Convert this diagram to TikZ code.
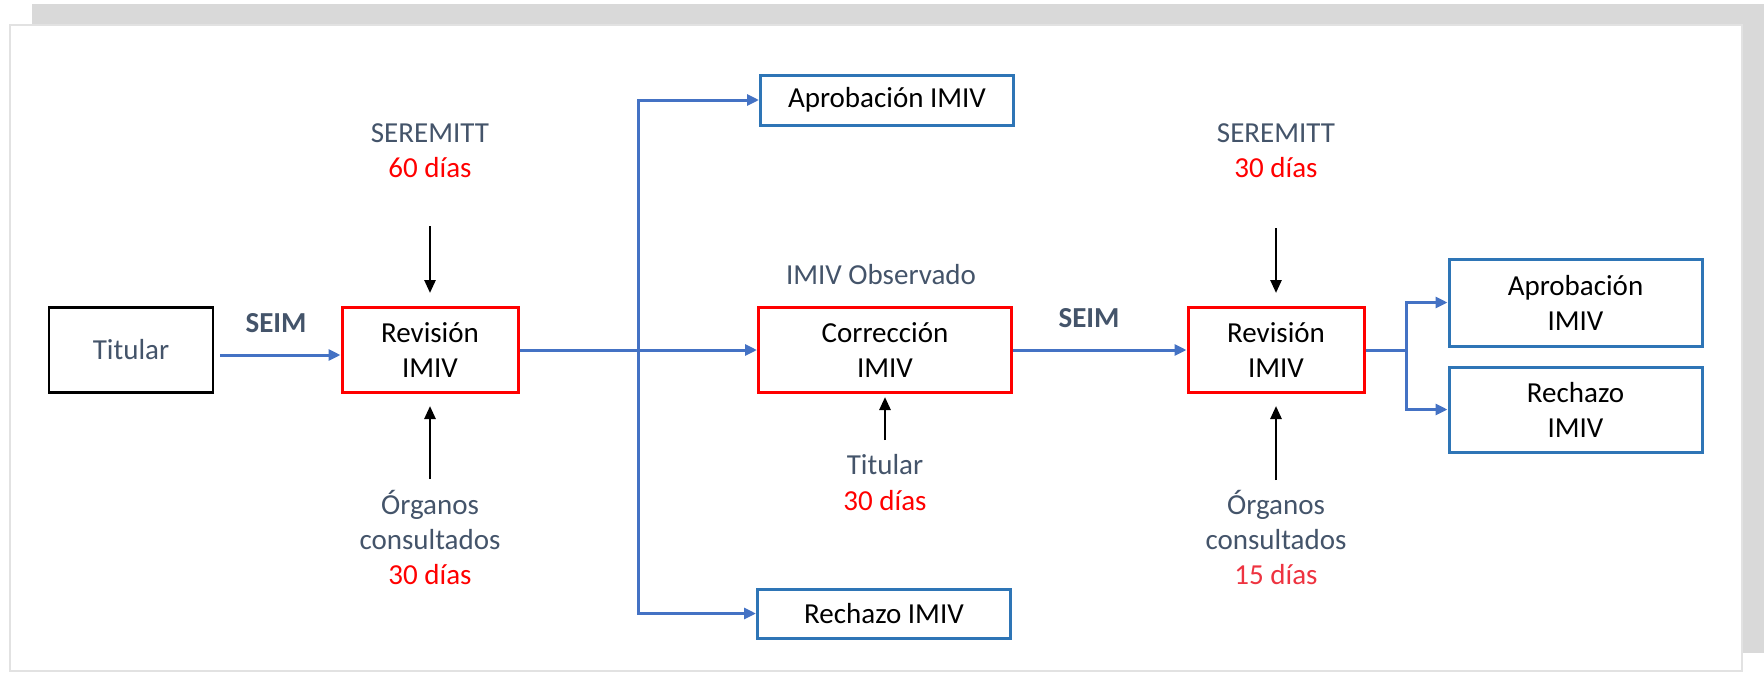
\documentclass[tikz,border=0pt]{standalone}
\usepackage{fontspec}
\setmainfont{Carlito}
\usetikzlibrary{arrows.meta}
\definecolor{txtgray}{HTML}{44546A}
\definecolor{dred}{HTML}{FF0000}
\definecolor{pred}{HTML}{EE3340}
\definecolor{boxblue}{HTML}{2E75B6}
\definecolor{arrblue}{HTML}{4472C4}
\definecolor{shadowgray}{HTML}{D9D9D9}
\definecolor{panelline}{HTML}{E2E2E2}
\begin{document}
\begin{tikzpicture}[x=1pt,y=-1pt,
  every node/.style={font=\fontsize{29}{35}\selectfont, inner sep=0pt},
  redbox/.style={draw=dred, line width=3pt, minimum width=176pt, minimum height=85pt, align=center},
  bluebox/.style={draw=boxblue, line width=3pt, minimum width=253pt, align=center},
  blkbox/.style={draw=black, line width=2.6pt, minimum width=164pt, minimum height=85pt},
  barrow/.style={draw=arrblue, line width=3pt, -{Triangle[length=12pt,width=11pt]}},
  bline/.style={draw=arrblue, line width=3pt},
  karrow/.style={draw=black, line width=2.6pt, -{Triangle[length=13pt,width=11pt]}},
  lbl/.style={text=txtgray, anchor=base},
  days/.style={text=dred, anchor=base}
]
\useasboundingbox (0,0) rectangle (1764,672);
% frame
\fill[shadowgray] (32,4) rectangle (1764,653);
\filldraw[fill=white, draw=panelline, line width=2pt] (10,25) rectangle (1742,670.5);

% main nodes
\node[blkbox, text=txtgray] (tit) at (131,350) {Titular};
\node[redbox] (rev1) at (430,350) {Revisión\\IMIV};
\node[redbox, minimum width=253pt] (corr) at (885,350) {Corrección\\IMIV};
\node[redbox] (rev2) at (1276,350) {Revisión\\IMIV};
\node[bluebox, minimum height=50pt] (apr1) at (887,100) {Aprobación IMIV};
\node[bluebox, minimum height=49pt] (rec1) at (884,613.5) {Rechazo IMIV};
\node[bluebox, minimum height=87pt] (apr2) at (1575.5,302.5) {Aprobación\\IMIV};
\node[bluebox, minimum height=85pt] (rec2) at (1575.5,409.5) {Rechazo\\IMIV};

% labels
\node[lbl, font=\fontsize{29}{35}\selectfont\bfseries] (seim1) at (276,332) {SEIM};
\node[lbl, font=\fontsize{29}{35}\selectfont\bfseries] (seim2) at (1089,327) {SEIM};
\node[lbl] (obs) at (881,284) {IMIV Observado};

\node[lbl] (ser1) at (430,142) {SEREMITT};
\node[days] (d60) at (430,177) {60 días};
\node[lbl] (org1) at (430,514) {Órganos};
\node[lbl] (con1) at (430,549) {consultados};
\node[days] (d30a) at (430,584) {30 días};

\node[lbl] (tit2) at (885,474) {Titular};
\node[days] (d30b) at (885,510) {30 días};

\node[lbl] (ser2) at (1276,142) {SEREMITT};
\node[days] (d30c) at (1276,177) {30 días};
\node[lbl] (org2) at (1276,514) {Órganos};
\node[lbl] (con2) at (1276,549) {consultados};
\node[days, text=pred] (d15) at (1276,584) {15 días};

% coordinates
\coordinate (j1) at (638,350);
\coordinate (j2) at (1406,350);
\coordinate (s1) at (430,226);
\coordinate (u1) at (430,479);
\coordinate (u3) at (885,440);
\coordinate (s2) at (1276,228);
\coordinate (u2) at (1276,480);

% blue connectors
\draw[barrow] ([xshift=6pt,yshift=-5pt]tit.east) -- ([yshift=-5pt]rev1.west);
\draw[bline] (rev1.east) -- (j1);
\draw[barrow] (j1) -- (corr.west);
\draw[barrow] (j1) |- (apr1.west);
\draw[barrow] (j1) |- (rec1.west);
\draw[barrow] (corr.east) -- (rev2.west);
\draw[bline] (rev2.east) -- (j2);
\draw[barrow] (j2) |- (apr2.west);
\draw[barrow] (j2) |- (rec2.west);

% black arrows
\draw[karrow] (s1) -- ([yshift=13pt]rev1.north);
\draw[karrow] (u1) -- ([yshift=-12pt]rev1.south);
\draw[karrow] (u3) -- ([yshift=-3pt]corr.south);
\draw[karrow] (s2) -- ([yshift=13pt]rev2.north);
\draw[karrow] (u2) -- ([yshift=-12pt]rev2.south);
\end{tikzpicture}
\end{document}
